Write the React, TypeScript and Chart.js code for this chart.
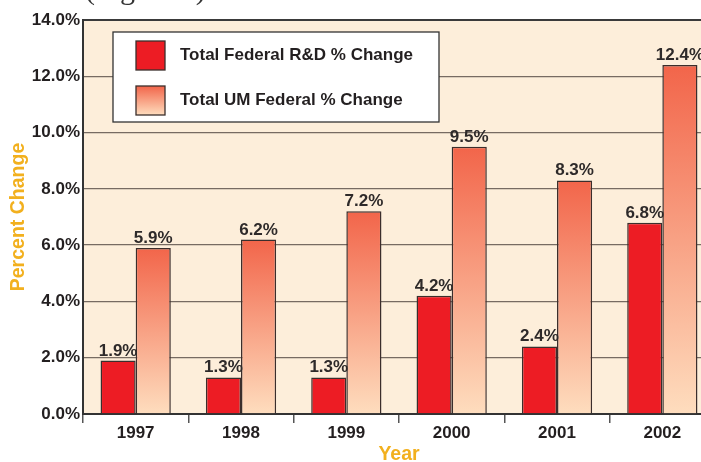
import React, { useEffect, useRef } from "react";
import { Chart, registerables } from "chart.js";

Chart.register(...registerables);

const years = ["1997", "1998", "1999", "2000", "2001", "2002"];
const federalRD = [1.9, 1.3, 1.3, 4.2, 2.4, 6.8];
const umFederal = [5.9, 6.2, 7.2, 9.5, 8.3, 12.4];
const seriesNames = ["Total Federal R&D % Change", "Total UM Federal % Change"];
const yTicks = [0, 2, 4, 6, 8, 10, 12, 14];
const captionText = "(Figure 3)";

const FONT = "'Liberation Sans', Arial, Helvetica, sans-serif";
const DARK = "#231f20";
const GOLD = "#F2B01E";
const RED = "#ED1C24";
const GRAD_TOP = "#F2654A";
const GRAD_BOTTOM = "#FEDDBE";
const BORDER = "#3b2e2c";

const bgPlugin = {
  id: "plotBg",
  beforeDraw(chart: any) {
    const { ctx, chartArea } = chart;
    ctx.save();
    ctx.fillStyle = "#FDEEDA";
    ctx.fillRect(chartArea.left, chartArea.top, chartArea.right - chartArea.left, chartArea.bottom - chartArea.top);
    ctx.restore();
  },
};

const overlayPlugin = {
  id: "overlay",
  afterDraw(chart: any) {
    const { ctx } = chart;
    ctx.save();
    // value labels
    ctx.font = `bold 17px ${FONT}`;
    ctx.fillStyle = "#2e2a2a";
    ctx.textAlign = "center";
    ctx.textBaseline = "alphabetic";
    chart.data.datasets.forEach((ds: any, di: number) => {
      const meta = chart.getDatasetMeta(di);
      meta.data.forEach((bar: any, i: number) => {
        ctx.fillText(`${Number(ds.data[i]).toFixed(1)}%`, bar.x, bar.y - 5);
      });
    });
    // legend
    const bx = 113, by = 32, bw = 326, bh = 90;
    ctx.fillStyle = "#ffffff";
    ctx.fillRect(bx, by, bw, bh);
    ctx.strokeStyle = "#333";
    ctx.lineWidth = 1.3;
    ctx.strokeRect(bx, by, bw, bh);
    const sw = 29;
    const sx = 136;
    const rows = [41, 86];
    chart.data.datasets.forEach((ds: any, di: number) => {
      const sy = rows[di];
      if (di === 0) {
        ctx.fillStyle = RED;
      } else {
        const g = ctx.createLinearGradient(0, sy, 0, sy + sw);
        g.addColorStop(0, GRAD_TOP);
        g.addColorStop(1, GRAD_BOTTOM);
        ctx.fillStyle = g;
      }
      ctx.fillRect(sx, sy, sw, sw);
      ctx.strokeStyle = BORDER;
      ctx.lineWidth = 1.3;
      ctx.strokeRect(sx, sy, sw, sw);
      ctx.fillStyle = DARK;
      ctx.font = `bold 17px ${FONT}`;
      ctx.textAlign = "left";
      ctx.textBaseline = "middle";
      ctx.fillText(ds.label, 180, sy + sw / 2);
    });
    // cropped caption at very top
    ctx.font = "30px 'Liberation Serif', 'Times New Roman', serif";
    ctx.fillStyle = "#333";
    ctx.textAlign = "left";
    ctx.textBaseline = "alphabetic";
    ctx.fillText(captionText, 85, -1);
    ctx.restore();
  },
};

export default function App() {
  const ref = useRef<HTMLCanvasElement | null>(null);
  useEffect(() => {
    if (!ref.current) return;
    const gradientFill = (c: any) => {
      const chart = c.chart;
      const { chartArea, scales } = chart;
      if (!chartArea || !scales || !scales.y || c.type !== "data") return "#F58A63";
      const v = c.raw as number;
      const top = scales.y.getPixelForValue(v);
      const g = chart.ctx.createLinearGradient(0, top, 0, chartArea.bottom);
      g.addColorStop(0, GRAD_TOP);
      g.addColorStop(1, GRAD_BOTTOM);
      return g;
    };
    const chart = new Chart(ref.current, {
      type: "bar",
      data: {
        labels: years,
        datasets: [
          {
            label: seriesNames[0],
            data: federalRD,
            backgroundColor: RED,
            borderColor: BORDER,
            borderWidth: 1.5,
          },
          {
            label: seriesNames[1],
            data: umFederal,
            backgroundColor: gradientFill,
            borderColor: BORDER,
            borderWidth: 1.5,
          },
        ],
      },
      options: {
        animation: false,
        responsive: true,
        maintainAspectRatio: false,
        layout: { padding: { top: 20, left: 0, right: 0, bottom: 0 } },
        datasets: {
          bar: { categoryPercentage: 0.667, barPercentage: 1.0 },
        },
        plugins: {
          legend: { display: false },
          tooltip: { enabled: false },
          title: { display: false },
        },
        scales: {
          x: {
            offset: true,
            border: { display: true, color: "#333", width: 2 },
            grid: {
              offset: true,
              drawOnChartArea: false,
              drawTicks: true,
              tickLength: 9,
              tickColor: "#555",
              lineWidth: 1.5,
            },
            ticks: {
              color: DARK,
              font: { family: FONT, size: 17, weight: "bold" },
              padding: 0,
              maxRotation: 0,
            },
            title: {
              display: true,
              text: "Year",
              color: GOLD,
              font: { family: FONT, size: 19.5, weight: "bold" },
              padding: { top: 0, bottom: -4.7 },
            },
            afterFit: (s: any) => {
              s.height = 48;
            },
          },
          y: {
            min: 0,
            max: 14,
            border: { display: true, color: "#333", width: 2 },
            grid: {
              drawTicks: false,
              color: (c: any) => (c.tick && c.tick.value === 14 ? "#3a3a3a" : "#776b62"),
              lineWidth: (c: any) => (c.tick && c.tick.value === 14 ? 2 : 1.3),
            },
            afterBuildTicks: (s: any) => {
              s.ticks = yTicks.map((v) => ({ value: v }));
            },
            ticks: {
              color: DARK,
              font: { family: FONT, size: 17, weight: "bold" },
              padding: 3,
              callback: (v: any) => `${Number(v).toFixed(1)}%`,
            },
            title: {
              display: true,
              text: "Percent Change",
              color: GOLD,
              font: { family: FONT, size: 19.5, weight: "bold" },
              padding: { top: 7, bottom: 0 },
            },
            afterFit: (s: any) => {
              s.width = 83;
            },
          },
        },
      },
      plugins: [bgPlugin, overlayPlugin],
    });
    return () => chart.destroy();
  }, []);

  return (
    <div style={{ position: "fixed", left: 0, top: 0, width: 701, height: 462, overflow: "hidden", background: "#fff" }}>
      <div style={{ position: "absolute", left: 0, top: 0, width: 715, height: 462 }}>
        <canvas ref={ref} />
      </div>
    </div>
  );
}
